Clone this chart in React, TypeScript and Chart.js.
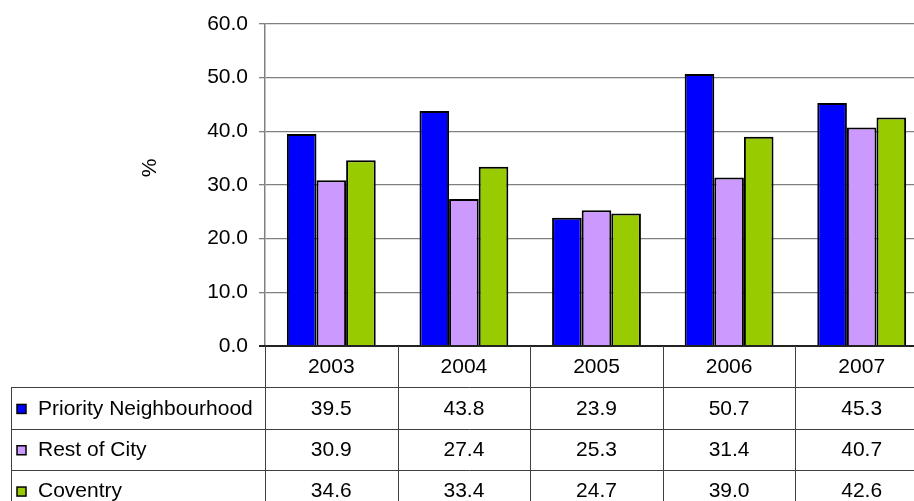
import React, { useEffect, useRef } from "react";
import { Chart, registerables } from "chart.js";

Chart.register(...registerables);

const categories = ["2003", "2004", "2005", "2006", "2007"];
const priority = [39.5, 43.8, 23.9, 50.7, 45.3];
const restOfCity = [30.9, 27.4, 25.3, 31.4, 40.7];
const coventry = [34.6, 33.4, 24.7, 39.0, 42.6];
const seriesNames = ["Priority Neighbourhood", "Rest of City", "Coventry"];
const seriesColors = ["#0000FF", "#CC99FF", "#99CC00"];
const yTicks = [0, 10, 20, 30, 40, 50, 60];
const yTitle = "%";

const FONT = "'Liberation Sans', Arial, sans-serif";

const tablePlugin = {
  id: "dataTable",
  afterDraw(chart: any) {
    const ctx = chart.ctx;
    const xs = chart.scales.x;
    const { left, right, bottom } = chart.chartArea;
    const n = categories.length;
    const catW = (right - left) / n;
    const rowH = 41.3;
    const tableLeft = 11;
    const H = chart.height;
    ctx.save();
    // axis line
    ctx.strokeStyle = "#222";
    ctx.lineWidth = 2;
    ctx.beginPath();
    ctx.moveTo(left - 6, bottom);
    ctx.lineTo(right, bottom);
    ctx.stroke();

    ctx.strokeStyle = "#404040";
    ctx.lineWidth = 1;
    for (let i = 0; i <= n; i++) {
      const xv = Math.round(xs.getPixelForValue(Math.min(i, n - 1)) + (i === n ? catW / 2 : -catW / 2)) + 0.5;
      ctx.beginPath();
      ctx.moveTo(xv, bottom);
      ctx.lineTo(xv, H);
      ctx.stroke();
    }
    ctx.beginPath();
    ctx.moveTo(tableLeft + 0.5, Math.round(bottom + rowH));
    ctx.lineTo(tableLeft + 0.5, H);
    ctx.stroke();
    for (let r = 1; r <= 3; r++) {
      const yv = Math.round(bottom + r * rowH) + 0.5;
      ctx.beginPath();
      ctx.moveTo(tableLeft, yv);
      ctx.lineTo(right, yv);
      ctx.stroke();
    }

    ctx.fillStyle = "#000";
    ctx.font = `21px ${FONT}`;
    ctx.textBaseline = "middle";
    ctx.textAlign = "center";
    categories.forEach((c, i) => {
      ctx.fillText(c, xs.getPixelForValue(i), bottom + rowH / 2 + 1);
    });
    const all = [priority, restOfCity, coventry];
    all.forEach((vals, r) => {
      const cy = bottom + (r + 1) * rowH + rowH / 2 + 1;
      ctx.textAlign = "center";
      vals.forEach((v, i) => {
        ctx.fillText(v.toFixed(1), xs.getPixelForValue(i), cy);
      });
      ctx.fillStyle = seriesColors[r];
      ctx.fillRect(17, cy - 4.5, 9, 9);
      ctx.strokeStyle = "#000";
      ctx.lineWidth = 1.5;
      ctx.strokeRect(17, cy - 4.5, 9, 9);
      ctx.fillStyle = "#000";
      ctx.textAlign = "left";
      ctx.fillText(seriesNames[r], 38, cy);
    });

    ctx.save();
    ctx.translate(150, 168);
    ctx.rotate(-Math.PI / 2);
    ctx.textAlign = "center";
    ctx.fillText(yTitle, 0, 0);
    ctx.restore();

    ctx.restore();
  },
};

export default function App() {
  const ref = useRef<HTMLCanvasElement>(null);
  useEffect(() => {
    document.body.style.margin = "0";
    document.body.style.overflow = "hidden";
    const chart = new Chart(ref.current!, {
      type: "bar",
      data: {
        labels: categories,
        datasets: [priority, restOfCity, coventry].map((d, i) => ({
          label: seriesNames[i],
          data: d,
          backgroundColor: seriesColors[i],
          borderColor: "#000",
          borderWidth: 2,
          categoryPercentage: 0.67,
          barPercentage: 1.0,
        })),
      },
      options: {
        animation: false,
        responsive: false,
        devicePixelRatio: 1,
        layout: { padding: { left: 0, top: 24, right: 0, bottom: 155 } },
        plugins: { legend: { display: false }, tooltip: { enabled: false } },
        scales: {
          x: { display: false },
          y: {
            min: 0,
            max: 60,
            afterFit: (s: any) => {
              s.width = 265;
            },
            afterBuildTicks: (s: any) => {
              s.ticks = yTicks.map((v) => ({ value: v }));
            },
            ticks: {
              color: "#000",
              font: { family: FONT, size: 21 },
              padding: 11,
              callback: (v: any) => Number(v).toFixed(1),
            },
            grid: { color: "#808080", lineWidth: 1.3, tickLength: 6 },
            border: { color: "#808080", width: 1.5 },
          },
        },
      },
      plugins: [tablePlugin],
    });
    return () => chart.destroy();
  }, []);
  return (
    <div style={{ position: "fixed", left: 0, top: 0, width: 914, height: 501, overflow: "hidden", background: "#fff" }}>
      <canvas ref={ref} width={928} height={501} style={{ width: 928, height: 501, display: "block" }} />
    </div>
  );
}
